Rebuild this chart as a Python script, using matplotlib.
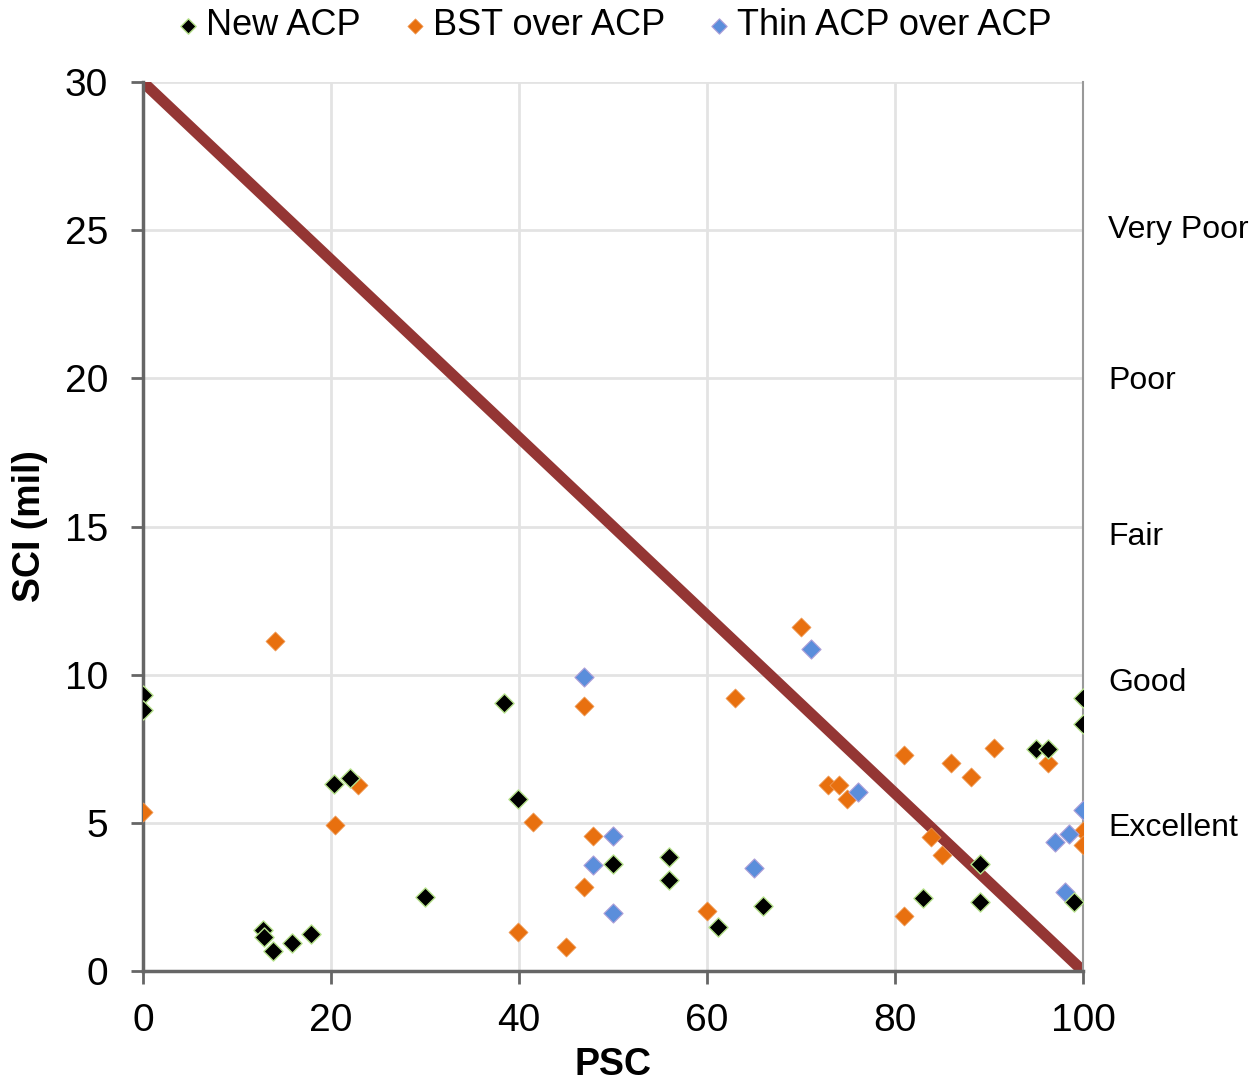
import matplotlib
matplotlib.use("Agg")
import matplotlib.pyplot as plt

plt.rcParams['font.family'] = ['Liberation Sans', 'DejaVu Sans']

# New ACP
new_x = [0, 0, 12.8, 12.9, 13.8, 15.9, 17.9, 20.3, 22.0, 30, 38.4, 39.9, 50, 56, 56, 61.2, 66,
         83, 89.1, 89, 95, 96.3, 100, 100, 99]
new_y = [9.3, 8.8, 1.38, 1.15, 0.68, 0.95, 1.25, 6.3, 6.5, 2.5, 9.05, 5.8, 3.6, 3.85, 3.07, 1.5, 2.2,
         2.47, 3.6, 2.33, 7.5, 7.5, 9.2, 8.33, 2.33]

# BST over ACP
bst_x = [0, 14.0, 20.4, 22.9, 46.9, 41.5, 47.9, 46.9, 39.9, 45, 60, 63,
         70, 72.9, 74, 74.9, 81, 86, 88.1, 90.5, 96.3, 83.8, 85, 81, 100, 100]
bst_y = [5.35, 11.13, 4.93, 6.28, 8.94, 5.03, 4.56, 2.84, 1.32, 0.81, 2.03, 9.2,
         11.6, 6.28, 6.28, 5.8, 7.3, 7.03, 6.55, 7.53, 7.03, 4.53, 3.9, 1.86, 4.73, 4.25]

# Thin ACP over ACP
thin_x = [46.9, 50, 47.9, 50, 65, 71.1, 76.1, 100, 98.5, 97, 98.1]
thin_y = [9.92, 4.56, 3.58, 1.96, 3.48, 10.87, 6.04, 5.43, 4.62, 4.35, 2.67]

# Threshold line
line_x = [0, 100]
line_y = [30, 0]

# Condition labels
cond_labels = ["Very Poor", "Poor", "Fair", "Good", "Excellent"]
cond_y = [25.0, 19.9, 14.65, 9.72, 4.83]

fig = plt.figure(figsize=(12.54, 10.92), dpi=100)
ax = fig.add_axes([0.114, 0.1108, 0.7496, 0.8141])

ax.plot(line_x, line_y, color='#943634', linewidth=8, solid_capstyle='butt', zorder=2)

ax.scatter(new_x, new_y, marker='D', s=95, c='black', edgecolors='#B5E08A', linewidths=1.0,
           zorder=4, label='New ACP')
ax.scatter(bst_x, bst_y, marker='D', s=95, c='#E8700F', edgecolors='#F0A060', linewidths=0.5,
           zorder=3, label='BST over ACP')
ax.scatter(thin_x, thin_y, marker='D', s=95, c='#5B8EDB', edgecolors='#B0A0D8', linewidths=0.8,
           zorder=3, label='Thin ACP over ACP')

ax.set_xlim(0, 100)
ax.set_ylim(0, 30)
ax.set_xticks([0, 20, 40, 60, 80, 100])
ax.set_yticks([0, 5, 10, 15, 20, 25, 30])
ax.grid(True, color='#E3E3E3', linewidth=2)
ax.set_axisbelow(True)

for s in ['left', 'bottom']:
    ax.spines[s].set_color('#666666')
    ax.spines[s].set_linewidth(2.5)
ax.spines['right'].set_color('#999999')
ax.spines['right'].set_linewidth(1.5)
ax.spines['top'].set_visible(False)

ax.tick_params(axis='both', labelsize=28, length=9, width=2, color='#666666', direction='out')
ax.tick_params(axis='x', pad=14)
ax.tick_params(axis='y', pad=16)

ax.set_xlabel('PSC', fontsize=27, fontweight='bold', labelpad=6)
ax.set_ylabel('SCI (mil)', fontsize=27, fontweight='bold', labelpad=12)

for lab, yv in zip(cond_labels, cond_y):
    ax.text(102.7, yv, lab, fontsize=23, va='center', ha='left', clip_on=False)

handles, labels = ax.get_legend_handles_labels()
fig.legend(handles, labels, loc='upper center', bbox_to_anchor=(0.487, 1.022), ncol=3,
           frameon=False, fontsize=26, handletextpad=0.0, columnspacing=1.0,
           markerscale=0.8, handlelength=1.0)

fig.savefig('out.png', dpi=100)
